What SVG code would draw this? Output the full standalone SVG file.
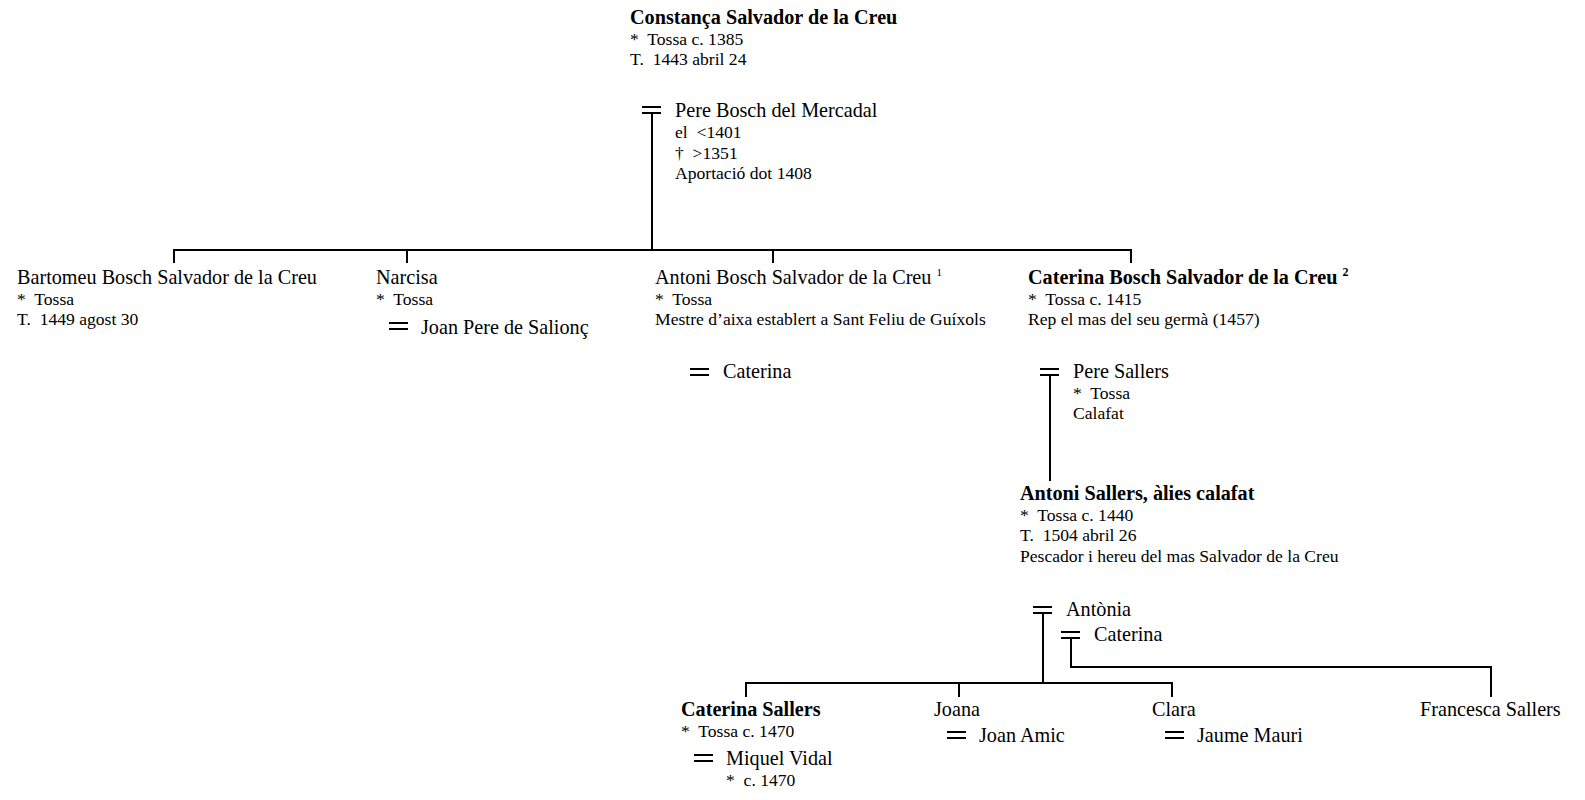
<svg xmlns="http://www.w3.org/2000/svg" width="1585" height="800" viewBox="0 0 1585 800">
<style>
text{font-family:"Liberation Serif","Times New Roman",serif;fill:#000;white-space:pre}
.n{font-size:20.2px}
.b{font-size:20.2px;font-weight:bold}
.d{font-size:17.6px}
.s{font-size:11px}
.sb{font-size:12px;font-weight:bold}
.l{stroke:#000;stroke-width:2;fill:none}
</style>
<rect width="1585" height="800" fill="#fff"/>
<defs>
<g id="eq"><line x1="0" y1="0" x2="19" y2="0" stroke="#000" stroke-width="2"/><line x1="0" y1="6" x2="19" y2="6" stroke="#000" stroke-width="2"/></g>
</defs>
<g id="connectors" class="l">
<path d="M652,113 V250"/>
<path d="M174,263 V250 H1131 V263"/>
<path d="M407,250 V263"/>
<path d="M773,250 V263"/>
<path d="M1050,375 V481"/>
<path d="M1043,613 V683"/>
<path d="M1071,638 V667 H1491 V697"/>
<path d="M746,697 V683 H1172 V697"/>
<path d="M959,683 V697"/>
</g>
<g id="constanca">
<text class="b" x="630" y="24">Constança Salvador de la Creu</text>
<text class="d" x="630" y="45">*  Tossa c. 1385</text>
<text class="d" x="630" y="65">T.  1443 abril 24</text>
</g>
<g id="pere-bosch">
<use href="#eq" x="642" y="107"/>
<text class="n" x="675" y="117">Pere Bosch del Mercadal</text>
<text class="d" x="675" y="138">el  &lt;1401</text>
<text class="d" x="675" y="159">†  &gt;1351</text>
<text class="d" x="675" y="179">Aportació dot 1408</text>
</g>
<g id="bartomeu">
<text class="n" x="17" y="284">Bartomeu Bosch Salvador de la Creu</text>
<text class="d" x="17" y="305">*  Tossa</text>
<text class="d" x="17" y="325">T.  1449 agost 30</text>
</g>
<g id="narcisa">
<text class="n" x="376" y="284">Narcisa</text>
<text class="d" x="376" y="305">*  Tossa</text>
</g>
<g id="joan-pere">
<use href="#eq" x="389" y="323"/>
<text class="n" x="421" y="334">Joan Pere de Salionç</text>
</g>
<g id="antoni-bosch">
<text class="n" x="655" y="284">Antoni Bosch Salvador de la Creu <tspan class="s" dy="-8">1</tspan></text>
<text class="d" x="655" y="305">*  Tossa</text>
<text class="d" x="655" y="325">Mestre d’aixa establert a Sant Feliu de Guíxols</text>
</g>
<g id="caterina-1">
<use href="#eq" x="690" y="369"/>
<text class="n" x="723" y="378">Caterina</text>
</g>
<g id="caterina-bosch">
<text class="b" x="1028" y="284">Caterina Bosch Salvador de la Creu <tspan class="sb" dy="-8">2</tspan></text>
<text class="d" x="1028" y="305">*  Tossa c. 1415</text>
<text class="d" x="1028" y="325">Rep el mas del seu germà (1457)</text>
</g>
<g id="pere-sallers">
<use href="#eq" x="1040" y="369"/>
<text class="n" x="1073" y="378">Pere Sallers</text>
<text class="d" x="1073" y="399">*  Tossa</text>
<text class="d" x="1073" y="419">Calafat</text>
</g>
<g id="antoni-sallers">
<text class="b" x="1020" y="500">Antoni Sallers, àlies calafat</text>
<text class="d" x="1020" y="521">*  Tossa c. 1440</text>
<text class="d" x="1020" y="541">T.  1504 abril 26</text>
<text class="d" x="1020" y="562">Pescador i hereu del mas Salvador de la Creu</text>
</g>
<g id="antonia">
<use href="#eq" x="1033" y="607"/>
<text class="n" x="1066" y="616">Antònia</text>
</g>
<g id="caterina-2">
<use href="#eq" x="1061" y="632"/>
<text class="n" x="1094" y="641">Caterina</text>
</g>
<g id="caterina-sallers">
<text class="b" x="681" y="716">Caterina Sallers</text>
<text class="d" x="681" y="737">*  Tossa c. 1470</text>
</g>
<g id="miquel-vidal">
<use href="#eq" x="694" y="755"/>
<text class="n" x="726" y="765">Miquel Vidal</text>
<text class="d" x="726" y="786">*  c. 1470</text>
</g>
<g id="joana">
<text class="n" x="934" y="716">Joana</text>
</g>
<g id="joan-amic">
<use href="#eq" x="947" y="732"/>
<text class="n" x="979" y="742">Joan Amic</text>
</g>
<g id="clara">
<text class="n" x="1152" y="716">Clara</text>
</g>
<g id="jaume-mauri">
<use href="#eq" x="1165" y="732"/>
<text class="n" x="1197" y="742">Jaume Mauri</text>
</g>
<g id="francesca">
<text class="n" x="1420" y="716">Francesca Sallers</text>
</g>
</svg>
